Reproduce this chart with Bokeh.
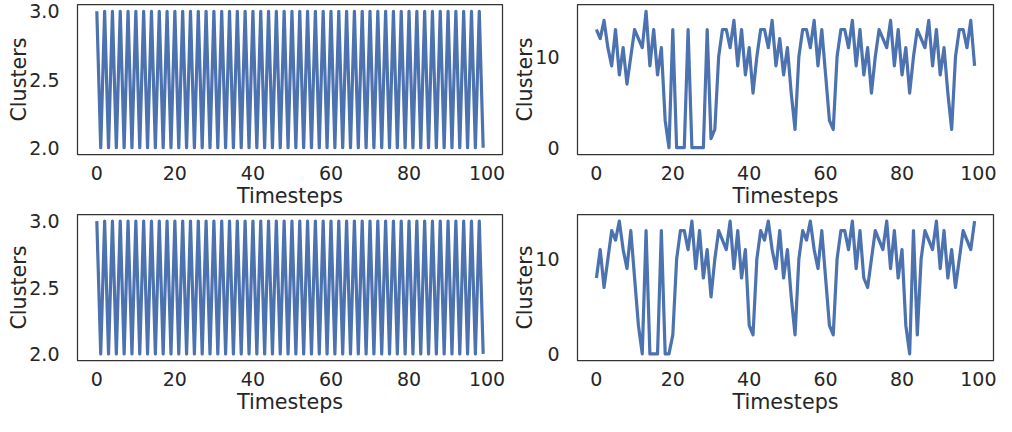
from bokeh.plotting import figure
from bokeh.layouts import column, row
from bokeh.models import Range1d, FixedTicker, NumeralTickFormatter
from bokeh.embed import file_html
from bokeh.resources import INLINE

# ---------------- data ----------------
timesteps = list(range(100))

clusters_top_left = [
    3, 2, 3, 2, 3, 2, 3, 2, 3, 2, 3, 2, 3, 2, 3, 2, 3, 2, 3, 2,
    3, 2, 3, 2, 3, 2, 3, 2, 3, 2, 3, 2, 3, 2, 3, 2, 3, 2, 3, 2,
    3, 2, 3, 2, 3, 2, 3, 2, 3, 2, 3, 2, 3, 2, 3, 2, 3, 2, 3, 2,
    3, 2, 3, 2, 3, 2, 3, 2, 3, 2, 3, 2, 3, 2, 3, 2, 3, 2, 3, 2,
    3, 2, 3, 2, 3, 2, 3, 2, 3, 2, 3, 2, 3, 2, 3, 2, 3, 2, 3, 2,
]

clusters_bottom_left = [
    3, 2, 3, 2, 3, 2, 3, 2, 3, 2, 3, 2, 3, 2, 3, 2, 3, 2, 3, 2,
    3, 2, 3, 2, 3, 2, 3, 2, 3, 2, 3, 2, 3, 2, 3, 2, 3, 2, 3, 2,
    3, 2, 3, 2, 3, 2, 3, 2, 3, 2, 3, 2, 3, 2, 3, 2, 3, 2, 3, 2,
    3, 2, 3, 2, 3, 2, 3, 2, 3, 2, 3, 2, 3, 2, 3, 2, 3, 2, 3, 2,
    3, 2, 3, 2, 3, 2, 3, 2, 3, 2, 3, 2, 3, 2, 3, 2, 3, 2, 3, 2,
]

clusters_top_right = [
    13, 12, 14, 11, 9, 13, 8, 11, 7, 10,
    13, 12, 11, 15, 9, 13, 8, 11, 3, 0,
    13, 0, 0, 0, 13, 0, 0, 0, 0, 13,
    1, 2, 10, 13, 13, 11, 14, 9, 13, 8,
    11, 6, 10, 13, 13, 11, 14, 9, 12, 8,
    11, 6, 2, 10, 13, 13, 11, 14, 9, 13,
    8, 3, 2, 10, 13, 13, 11, 14, 9, 13,
    8, 11, 6, 10, 13, 12, 11, 14, 9, 13,
    8, 11, 6, 10, 13, 12, 11, 14, 9, 13,
    8, 11, 6, 2, 10, 13, 13, 11, 14, 9,
]

clusters_bottom_right = [
    8, 11, 7, 10, 13, 12, 14, 11, 9, 13,
    8, 3, 0, 13, 0, 0, 0, 13, 0, 0,
    2, 10, 13, 13, 11, 14, 9, 13, 8, 11,
    6, 10, 13, 12, 11, 14, 9, 13, 8, 11,
    3, 2, 10, 13, 12, 14, 11, 9, 13, 8,
    11, 6, 2, 10, 13, 12, 14, 11, 9, 13,
    8, 3, 2, 10, 13, 13, 11, 14, 9, 13,
    8, 7, 10, 13, 12, 11, 14, 9, 13, 8,
    11, 3, 0, 13, 2, 10, 13, 12, 11, 14,
    9, 13, 8, 11, 7, 10, 13, 12, 11, 14,
]

x_ticks = [0, 20, 40, 60, 80, 100]
left_y_ticks = [2.0, 2.5, 3.0]
right_y_ticks = [0, 10]

x_label = "Timesteps"
y_label = "Clusters"

# ---------------- style ----------------
LINE = "#4c72b0"
TEXT = "#262626"
FONT = "DejaVu Sans"


def make_panel(ys, y_lo, y_hi, yticks, yfmt, width, height,
               b_left, b_right, b_top, b_bottom):
    p = figure(width=width, height=height, output_backend="svg",
               toolbar_location=None,
               x_range=Range1d(-4.95, 103.95),
               y_range=Range1d(y_lo, y_hi),
               min_border_left=b_left, min_border_right=b_right,
               min_border_top=b_top, min_border_bottom=b_bottom)
    p.line(timesteps, ys, line_color=LINE, line_width=3.2, line_join="round")
    p.grid.visible = False
    p.outline_line_color = "#333333"
    p.outline_line_width = 1.25
    p.background_fill_color = "white"
    p.border_fill_color = "white"
    for ax in p.axis:
        ax.axis_line_color = None
        ax.major_tick_line_color = None
        ax.minor_tick_line_color = None
        ax.major_label_text_font = FONT
        ax.major_label_text_font_size = "19px"
        ax.major_label_text_color = TEXT
        ax.axis_label_text_font = FONT
        ax.axis_label_text_font_size = "20.7px"
        ax.axis_label_text_font_style = "normal"
        ax.axis_label_text_color = TEXT
    p.xaxis.ticker = FixedTicker(ticks=x_ticks)
    p.xaxis.axis_label = x_label
    p.xaxis.major_label_standoff = 5
    p.xaxis.axis_label_standoff = 1
    p.yaxis.ticker = FixedTicker(ticks=yticks)
    p.yaxis.formatter = NumeralTickFormatter(format=yfmt)
    p.yaxis.axis_label = y_label
    p.yaxis.major_label_standoff = 12
    p.yaxis.axis_label_standoff = -5
    return p


p_tl = make_panel(clusters_top_left, 1.95, 3.05, left_y_ticks, "0.0",
                  506, 210, 77, 4, 4, 56)
p_tr = make_panel(clusters_top_right, -0.75, 15.75, right_y_ticks, "0",
                  490, 210, 71, 3, 4, 56)
p_bl = make_panel(clusters_bottom_left, 1.95, 3.05, left_y_ticks, "0.0",
                  506, 206, 77, 4, 4, 52)
p_br = make_panel(clusters_bottom_right, -0.7, 14.7, right_y_ticks, "0",
                  490, 206, 71, 3, 4, 52)

layout = column(row(p_tl, p_tr), row(p_bl, p_br))

open("out.html", "w").write(file_html(layout, INLINE))
